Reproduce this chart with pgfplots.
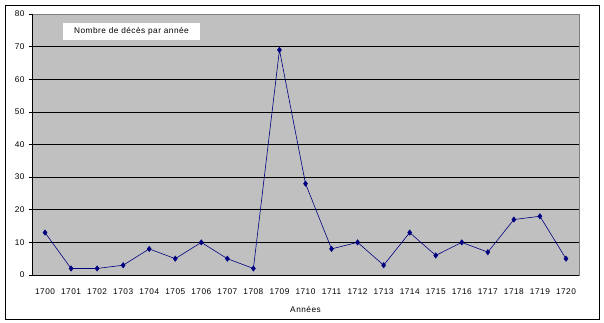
\documentclass[border=0pt]{standalone}
\usepackage{pgfplots}
\pgfplotsset{compat=1.18}
\usepackage{fontspec}
\setmainfont{Liberation Sans}
\newfontfamily\xl[LetterSpace=6]{Liberation Sans}
\definecolor{plotbg}{HTML}{C0C0C0}
\definecolor{navyline}{HTML}{000080}
\begin{document}
\begin{tikzpicture}
\path[use as bounding box] (-32bp,-48bp) rectangle (572bp,275bp);
\draw[black, line width=0.8bp] (-27bp,-44bp) rectangle (567bp,270bp);
\begin{axis}[
  scale only axis,
  width=547bp, height=261bp,
  xmin=-0.5, xmax=20.5,
  ymin=0, ymax=80,
  ytick={0,10,...,80},
  xtick={0,...,20},
  xticklabels={1700,1701,1702,1703,1704,1705,1706,1707,1708,1709,1710,1711,1712,1713,1714,1715,1716,1717,1718,1719,1720},
  axis background/.style={fill=plotbg},
  axis line style={draw=none},
  ymajorgrids,
  major grid style={black, line width=0.6bp},
  x tick style={draw=none},
  y tick style={black, line width=0.6bp},
  tick align=outside,
  major tick length=3bp,
  xtick pos=bottom, ytick pos=left,
  ticklabel style={font=\xl\fontsize{8.3}{9}\selectfont},
  /pgf/number format/assume math mode=true,
  xticklabel style={yshift=-7bp},
  yticklabel style={xshift=-1bp},
  xlabel={Années},
  xlabel style={font=\xl\fontsize{8.3}{9}\selectfont, yshift=-5bp},
  clip=false,
]
\draw[gray, line width=0.6bp] (rel axis cs:0,0) rectangle (rel axis cs:1,1);
\draw[black, line width=0.8bp] (rel axis cs:0,0) -- (rel axis cs:0,1);
\draw[black, line width=0.8bp] (rel axis cs:0,0) -- (rel axis cs:1,0);
\addplot[navyline, line width=0.6bp, mark=diamond*, mark size=2.6bp, mark options={fill=navyline, draw=navyline}]
coordinates {
(0,13) (1,2) (2,2) (3,3) (4,8) (5,5) (6,10) (7,5) (8,2) (9,69) (10,28)
(11,8) (12,10) (13,3) (14,13) (15,6) (16,10) (17,7) (18,17) (19,18) (20,5)
};
\end{axis}
\node[fill=white, minimum width=137bp, minimum height=17bp, inner sep=0pt, font=\xl\fontsize{8.3}{9}\selectfont] at (99.5bp,243.5bp) {Nombre de décès par année};
\end{tikzpicture}
\end{document}
